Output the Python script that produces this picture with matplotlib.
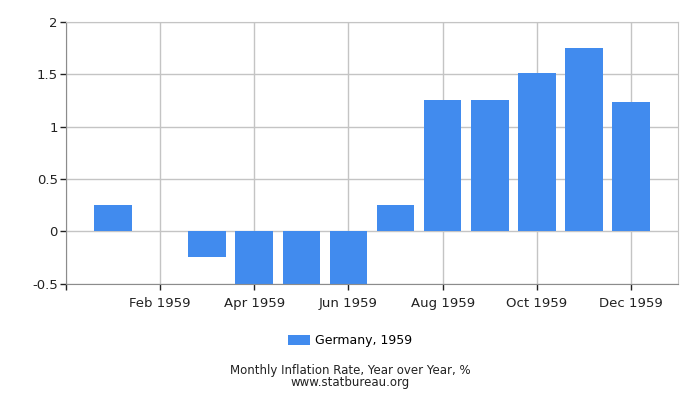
import matplotlib
matplotlib.use("Agg")
import matplotlib.pyplot as plt

# Germany monthly inflation, 1959 (year over year, %)
months = ['Jan 1959', 'Feb 1959', 'Mar 1959', 'Apr 1959', 'May 1959', 'Jun 1959',
          'Jul 1959', 'Aug 1959', 'Sep 1959', 'Oct 1959', 'Nov 1959', 'Dec 1959']
rates = [0.25, 0.0, -0.25, -0.5, -0.5, -0.5, 0.25, 1.25, 1.25, 1.51, 1.75, 1.24]
yticks = [-0.5, 0, 0.5, 1, 1.5, 2]
ytick_labels = ['-0.5', '0', '0.5', '1', '1.5', '2']
series_name = 'Germany, 1959'

bar_color = '#418bee'
plt.rcParams['font.family'] = 'DejaVu Sans'

fig = plt.figure(figsize=(7, 4), dpi=100)
ax = fig.add_axes([0.0943, 0.291, 0.8743, 0.654])

x = list(range(len(months)))
ax.bar(x, rates, width=0.8, color=bar_color, label=series_name, zorder=2)

ax.set_xlim(-1, len(months))
ax.set_ylim(-0.5, 2)

# ticks every other month, plus an unlabeled one at the left edge
tick_pos = [-1] + x[1::2]
tick_lab = [''] + months[1::2]
ax.set_xticks(tick_pos)
ax.set_xticklabels(tick_lab, fontsize=9.5)
ax.set_yticks(yticks)
ax.set_yticklabels(ytick_labels, fontsize=9.5)

ax.grid(True, color='#c4c4c4', linewidth=1, zorder=0)
ax.set_axisbelow(True)
ax.tick_params(axis='both', length=4, width=1, color='#222222', colors='#222222')
ax.tick_params(axis='x', pad=6)
ax.tick_params(axis='y', pad=2)

for side in ['top', 'right']:
    ax.spines[side].set_color('#c4c4c4')
for side in ['left', 'bottom']:
    ax.spines[side].set_color('#8c8c8c')

fig.legend(loc='center', bbox_to_anchor=(0.5, 0.148), frameon=False, fontsize=9,
           handlelength=1.8, handleheight=0.8, handletextpad=0.4)

fig.text(0.5, 0.073, 'Monthly Inflation Rate, Year over Year, %', ha='center', va='center',
         fontsize=8.5, color='#222222')
fig.text(0.5, 0.043, 'www.statbureau.org', ha='center', va='center',
         fontsize=8.5, color='#222222')

fig.savefig('out.png', dpi=100)
